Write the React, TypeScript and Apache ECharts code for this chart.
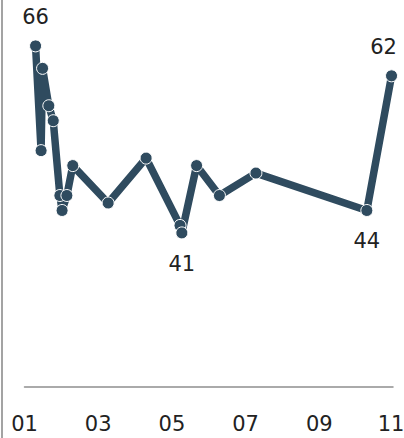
import React, { useEffect, useRef } from "react";
import * as echarts from "echarts";

// Month position (1 = January) of each reading and its value
const months = [1.3, 1.45, 1.49, 1.66, 1.78, 1.96, 2.02, 2.15, 2.31, 3.27, 4.3, 5.22, 5.27, 5.67, 6.29, 7.28, 10.29, 10.96];
const values = [66, 52, 63, 58, 56, 46, 44, 46, 50, 45, 51, 42, 41, 50, 46, 49, 44, 62];

// Readings whose value is printed, and on which side of the point
const labelledAbove = [0, 17];
const labelledBelow = [12, 16];

const monthTicks = [1, 3, 5, 7, 9, 11];

const LINE_COLOR = "#2f4b5f";
const TEXT_FONT = "DejaVu Sans, Verdana, sans-serif";

export default function App() {
  const ref = useRef<HTMLDivElement>(null);

  useEffect(() => {
    if (!ref.current) return;
    const chart = echarts.init(ref.current, null, { renderer: "svg" });

    const data = months.map((m, i) => {
      const item: any = { value: [m, values[i]] };
      if (labelledAbove.includes(i)) {
        item.label = {
          show: true,
          position: "top",
          distance: 12,
          offset: i === months.length - 1 ? [-8, 0] : [0, 0],
        };
      } else if (labelledBelow.includes(i)) {
        item.label = { show: true, position: "bottom", distance: 14 };
      }
      return item;
    });

    const lastTick = monthTicks[monthTicks.length - 1];
    const tickText = { fontSize: 21, fontFamily: TEXT_FONT, color: "#222" };

    chart.setOption({
      animation: false,
      grid: { left: 24.5, right: 11, top: 13, bottom: 51, outerBoundsMode: "none", containLabel: false },
      xAxis: {
        type: "value",
        min: monthTicks[0],
        max: lastTick,
        interval: 2,
        axisLine: { show: true, lineStyle: { color: "#8f8f8f", width: 1.5 } },
        axisTick: { show: false },
        splitLine: { show: false },
        axisLabel: {
          margin: 26,
          ...tickText,
          // the last month label is nudged left so it stays inside the edge
          formatter: (v: number) => {
            const s = String(v).padStart(2, "0");
            return v === lastTick ? `{edge|${s}}` : s;
          },
          rich: { edge: { ...tickText, padding: [0, 4, 0, 0] } },
        },
      },
      yAxis: {
        type: "value",
        min: 20.4,
        max: 70.4,
        show: false,
        splitLine: { show: false },
      },
      series: [
        {
          type: "line",
          data,
          symbol: "circle",
          symbolSize: 12,
          showAllSymbol: true,
          lineStyle: { color: LINE_COLOR, width: 7.5 },
          itemStyle: { color: LINE_COLOR, borderColor: "#fff", borderWidth: 1 },
          label: {
            show: false,
            fontSize: 21,
            fontFamily: TEXT_FONT,
            color: "#222",
          },
        },
      ],
    });

    return () => chart.dispose();
  }, []);

  return (
    <div style={{ position: "fixed", left: 0, top: 0, width: 404, height: 438, background: "#fff" }}>
      <div style={{ position: "absolute", left: 1, top: 0, width: 2, height: 438, background: "#a3a3a3" }} />
      <div ref={ref} style={{ position: "absolute", left: 0, top: 0, width: 404, height: 438 }} />
    </div>
  );
}
